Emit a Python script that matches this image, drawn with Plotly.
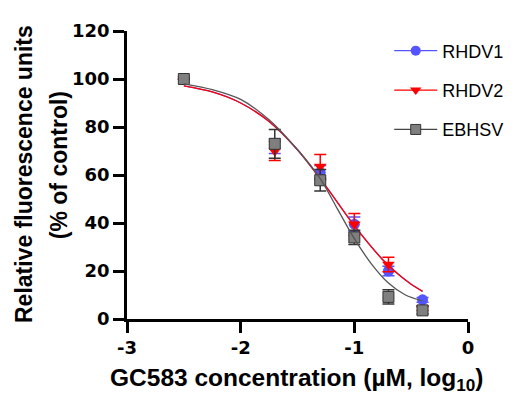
import plotly.graph_objects as go

# ---- data ----
x_conc = [-2.5, -1.7, -1.3, -1.0, -0.7, -0.4]

rhdv1 = [100, 72, 61, 39.5, 20, 8]
rhdv1_err = [0, 3, 3, 3, 2, 1]
rhdv2 = [100, 70, 63.5, 39.5, 22.7, 4.5]
rhdv2_err = [0, 4, 5, 4.5, 3, 1]
ebhsv = [100, 73, 57.8, 34, 9.2, 3.6]
ebhsv_err = [0, 6, 4.5, 3, 3, 1.5]

# fitted curves
fit_x_rhdv = [-2.5, -2.25, -2.0, -1.75, -1.5, -1.25, -1.0, -0.75, -0.6, -0.5, -0.4]
fit_rhdv1 = [97.1, 94.6, 90.0, 82.3, 70.5, 55.3, 38.9, 24.7, 18.1, 14.5, 11.5]
fit_rhdv2 = [97.1, 94.6, 90.0, 82.3, 70.5, 55.3, 38.9, 24.7, 18.1, 14.5, 11.5]
fit_x_ebhsv = [-2.5, -2.25, -2.0, -1.75, -1.5, -1.3, -1.15, -1.0, -0.85, -0.7, -0.55, -0.4]
fit_ebhsv = [98.0, 95.6, 91.5, 83.0, 70.5, 58.5, 46.0, 33.5, 23.0, 15.0, 10.0, 7.5]

series_names = ["RHDV1", "RHDV2", "EBHSV"]

x_tickvals = [-3, -2, -1, 0]
x_ticktext = ["-3", "-2", "-1", "0"]
y_tickvals = [0, 20, 40, 60, 80, 100, 120]

BLUE = "#5555ff"
RED = "#ff0000"
GREY = "#7f7f7f"

fig = go.Figure()

def add_series(y, err, fx, fy, color, symbol, line_color, err_color, mline):
    fig.add_trace(go.Scatter(
        x=x_conc, y=y, mode="markers", showlegend=False,
        marker=dict(color=color, symbol=symbol, size=11, line=mline),
        error_y=dict(type="data", array=err, visible=True, color=err_color, thickness=1.5, width=6),
    ))
    fig.add_trace(go.Scatter(
        x=fx, y=fy, mode="lines", showlegend=False,
        line=dict(color=line_color, width=1.3, shape="spline", smoothing=0.8),
    ))

add_series(rhdv1, rhdv1_err, fit_x_rhdv, fit_rhdv1, BLUE, "circle", BLUE, BLUE, dict(width=0))
add_series(rhdv2, rhdv2_err, fit_x_rhdv, fit_rhdv2, RED, "triangle-down", RED, RED, dict(width=0))
add_series(ebhsv, ebhsv_err, fit_x_ebhsv, fit_ebhsv, GREY, "square", "#555555", "#333333",
           dict(width=1, color="#333333"))

# legend-only entries
leg_styles = [
    (BLUE, "circle", BLUE, dict(width=0)),
    (RED, "triangle-down", RED, dict(width=0)),
    (GREY, "square", "#444444", dict(width=1, color="#333333")),
]
for name, (mc, sym, lc, ml) in zip(series_names, leg_styles):
    fig.add_trace(go.Scatter(
        x=[None], y=[None], mode="lines+markers", name=name, legendgroup=name,
        marker=dict(color=mc, symbol=sym, size=10, line=ml),
        line=dict(color=lc, width=1.3),
    ))

axis_common = dict(
    showline=True, linecolor="black", linewidth=2.5, ticks="outside",
    ticklen=11, tickwidth=2.5, tickcolor="black", showgrid=False, zeroline=False,
)

# page body has an 8px margin, so the figure is 8px smaller than the window
fig.update_layout(
    width=517, height=387,
    margin=dict(l=119, r=57, t=17, b=76),
    paper_bgcolor="white", plot_bgcolor="white",
    xaxis=dict(range=[-3, 0], tickmode="array", tickvals=x_tickvals, ticktext=x_ticktext,
               tickfont=dict(family="DejaVu Sans", size=18, color="black", weight="bold"),
               **axis_common),
    yaxis=dict(range=[0, 120], tickmode="array", tickvals=y_tickvals,
               tickfont=dict(family="DejaVu Sans", size=18, color="black", weight="bold"),
               **axis_common),
    legend=dict(x=0.769, y=0.995, xanchor="left", yanchor="top",
                font=dict(family="Liberation Sans", size=18, color="black"),
                tracegroupgap=13, itemwidth=43, bgcolor="rgba(0,0,0,0)"),
    showlegend=True,
    annotations=[
        dict(text="Relative fluorescence units", textangle=-90, showarrow=False,
             xref="paper", yref="paper", x=(24 - 127) / 341, y=(319 - 171) / 294,
             xanchor="center", yanchor="middle",
             font=dict(family="Liberation Sans", size=23, color="black", weight="bold")),
        dict(text="(% of control)", textangle=-90, showarrow=False,
             xref="paper", yref="paper", x=(59 - 127) / 341, y=(319 - 162) / 294,
             xanchor="center", yanchor="middle",
             font=dict(family="Liberation Sans", size=23, color="black", weight="bold")),
        dict(text="GC583 concentration (µM, log<sub>10</sub>)", showarrow=False,
             xref="paper", yref="paper", x=(297 - 127) / 341, y=(319 - 381) / 294,
             xanchor="center", yanchor="middle",
             font=dict(family="Liberation Sans", size=24.5, color="black", weight="bold")),
    ],
)

fig.write_html("out.html")
